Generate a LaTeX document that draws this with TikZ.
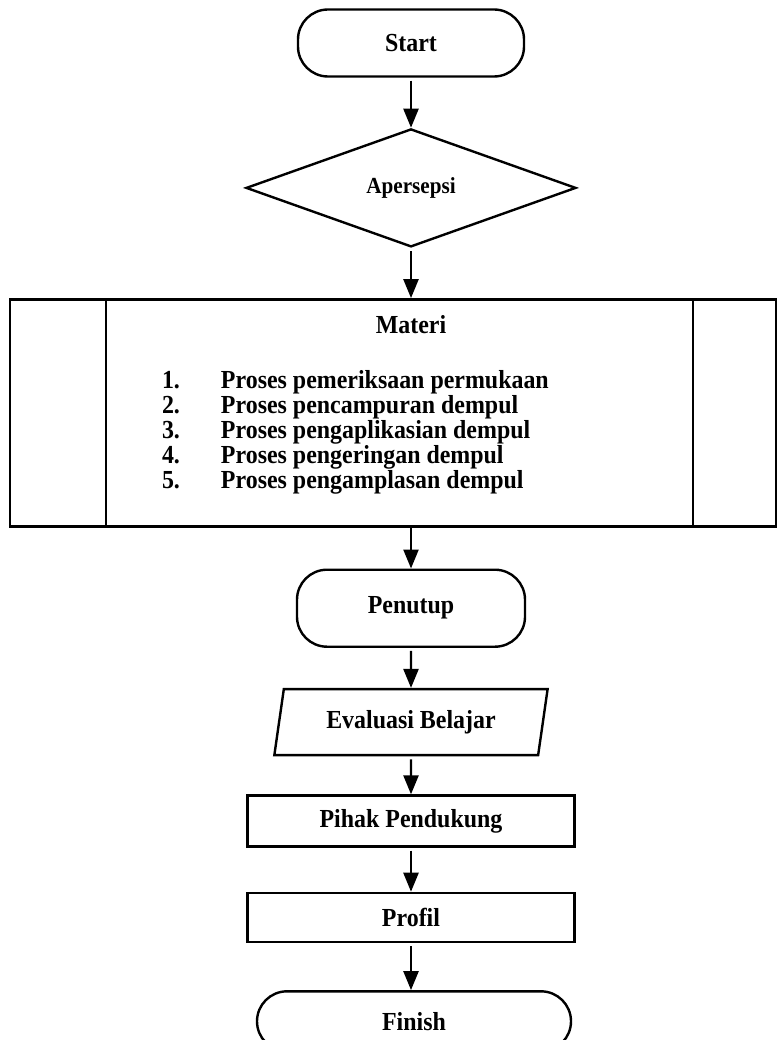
\documentclass[tikz,border=0pt]{standalone}
\usepackage{fontspec}
\setmainfont{Liberation Serif}[FakeStretch=0.92]
\usetikzlibrary{positioning,shapes.geometric,arrows.meta}

\begin{document}
\begin{tikzpicture}[
            x=1pt, y=-1pt,
            base/.style={draw, line width=2.4pt, inner sep=0pt, font=\fontsize{26}{24}\selectfont\bfseries},
            terminal/.style={base, rectangle, rounded corners=30pt, minimum width=226pt, minimum height=67pt},
            decision/.style={base, diamond, minimum width=330pt, minimum height=118pt, font=\fontsize{23}{24}\selectfont\bfseries},
            process/.style={base, rectangle, minimum width=327pt, minimum height=51pt},
            io/.style={base, trapezium, trapezium left angle=75, trapezium right angle=105, trapezium stretches=true, minimum width=274pt, minimum height=66pt},
            predef/.style={base, rectangle, minimum width=766pt, minimum height=227pt},
            txt/.style={inner sep=0pt, font=\fontsize{26}{23.5}\selectfont\bfseries},
            arrow/.style={-{Triangle[length=19pt,width=15pt]}, line width=2.4pt, shorten <=3pt}
            ]

            \useasboundingbox (0,0) rectangle (777,1040);

            % Opening
            \node[terminal] (start) at (411,43) {Start};
            \node[decision, below=50pt of start] (apersepsi) {Apersepsi};

            % Material block
            \node[predef, below=50pt of apersepsi, xshift=-18pt] (materi) {};
            \draw[line width=2.4pt] ([xshift=97pt]materi.north west) -- ([xshift=97pt]materi.south west);
            \draw[line width=2.4pt] ([xshift=-84pt]materi.north east) -- ([xshift=-84pt]materi.south east);
            \path (materi.north -| start) ++(0,27) node[txt] (materititle) {Materi};
            \path (materi.north west) ++(153,72) node[txt, anchor=north west] (materilist) {%
                \begin{tabular}{@{}p{59pt}@{}l@{}}
                1. & Proses pemeriksaan permukaan\\
                2. & Proses pencampuran dempul\\
                3. & Proses pengaplikasian dempul\\
                4. & Proses pengeringan dempul\\
                5. & Proses pengamplasan dempul
                \end{tabular}};

            % Closing
            \node[terminal, below=41pt of materi, xshift=18pt, minimum width=228pt, minimum height=77pt] (penutup) {Penutup};
            \node[io, below=40pt of penutup] (evaluasi) {Evaluasi Belajar};
            \node[process, below=38pt of evaluasi] (pihak) {Pihak Pendukung};
            \node[process, below=44pt of pihak, minimum height=49pt] (profil) {Profil};
            \node[terminal, below=47pt of profil, xshift=3pt, minimum width=314pt, minimum height=60pt] (finish) {Finish};

            % Flow
            \draw[arrow] (start) -- (apersepsi);
            \draw[arrow] (apersepsi) -- (apersepsi |- materi.north);
            \draw[arrow, shorten <=0pt] (penutup |- materi.south) -- (penutup);
            \draw[arrow] (penutup) -- (evaluasi);
            \draw[arrow] (evaluasi) -- (pihak);
            \draw[arrow] (pihak) -- (profil);
            \draw[arrow] (profil) -- (profil |- finish.north);

        \end{tikzpicture}
\end{document}
